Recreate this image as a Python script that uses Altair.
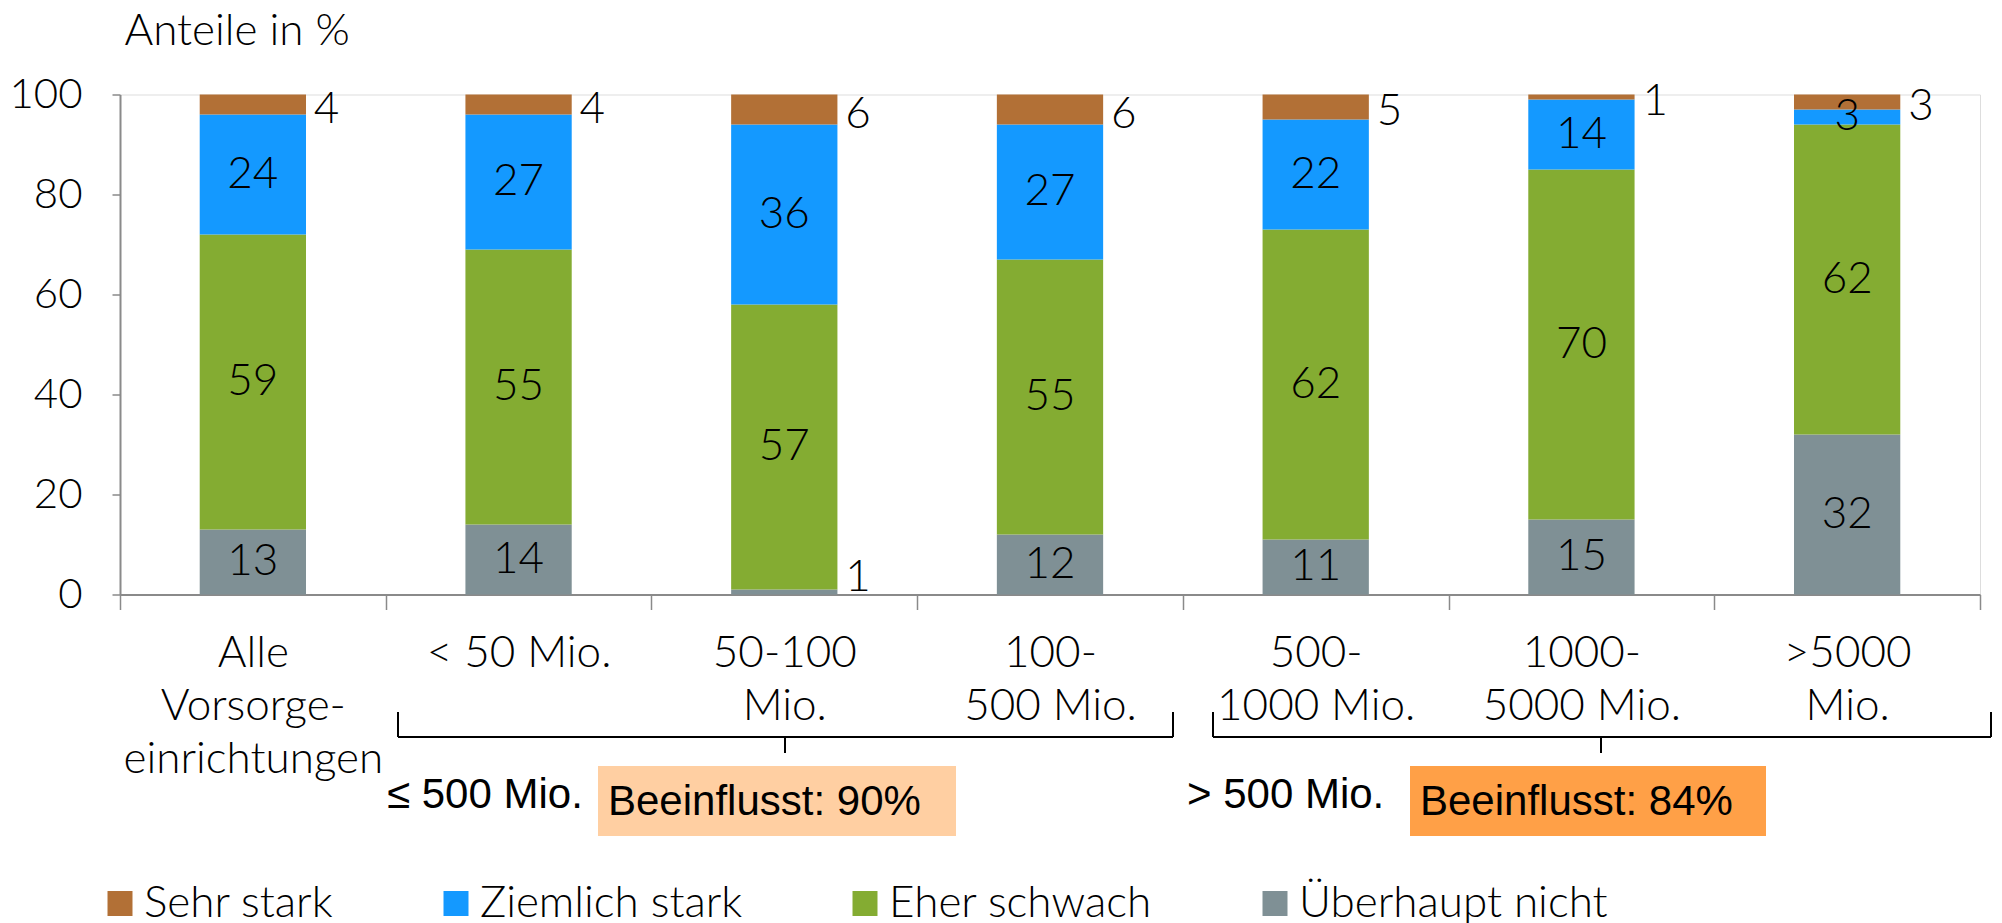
import altair as alt
import pandas as pd

# ---------------- data ----------------
categories = ["Alle|Vorsorge-|einrichtungen", "< 50 Mio.", "50-100|Mio.", "100-|500 Mio.",
              "500-|1000 Mio.", "1000-|5000 Mio.", ">5000|Mio."]
series = ["Sehr stark", "Ziemlich stark", "Eher schwach", "Überhaupt nicht"]
colors = ["#B27036", "#1499FF", "#84AC32", "#7F9095"]

ueberhaupt_nicht = [13, 14, 1, 12, 11, 15, 32]
eher_schwach = [59, 55, 57, 55, 62, 70, 62]
ziemlich_stark = [24, 27, 36, 27, 22, 14, 3]
sehr_stark = [4, 4, 6, 6, 5, 1, 3]

y_ticks = [0, 20, 40, 60, 80, 100]
y_title = "Anteile in %"
group_labels = ["≤ 500 Mio.", "> 500 Mio."]
beeinflusst = [90, 84]
box_colors = ["#FFCFA2", "#FFA047"]

# stacked table (bottom -> top)
stack_order = [("Überhaupt nicht", ueberhaupt_nicht), ("Eher schwach", eher_schwach),
               ("Ziemlich stark", ziemlich_stark), ("Sehr stark", sehr_stark)]
rows = []
for i, cat in enumerate(categories):
    base = 0
    for name, vals in stack_order:
        v = vals[i]
        if name == "Sehr stark":
            place = "top"
        elif v < 2:
            place = "bottom"
        else:
            place = "inside"
        rows.append({"cat": cat, "series": name, "value": v, "lo": base, "hi": base + v,
                     "mid": base + v / 2, "place": place})
        base += v
df = pd.DataFrame(rows)

FONT = "Lato"
FW = 300
FS = 44
ARIAL = "Liberation Sans"

x_enc = alt.X("cat:N", sort=categories, title=None,
              scale=alt.Scale(paddingInner=0, paddingOuter=0),
              axis=alt.Axis(labelExpr="split(datum.label, '|')", labelAngle=0,
                            labelFont=FONT, labelFontWeight=FW, labelFontSize=FS,
                            labelColor="black", labelLineHeight=53, labelBaseline="top",
                            labelPadding=22, labelLimit=500, labelOverlap=False,
                            tickBand="extent", tickSize=15, tickColor="#8a8a8a", tickWidth=1.5,
                            domainColor="#8a8a8a", domainWidth=2, grid=False))
y_scale = alt.Scale(domain=[0, 100], nice=False)

bars = alt.Chart(df).mark_bar(width=alt.RelativeBandSize(0.4)).encode(
    x=x_enc,
    y=alt.Y("lo:Q", scale=y_scale, title=y_title,
            axis=alt.Axis(values=y_ticks, grid=False, labelFont=FONT, labelFontWeight=FW,
                          labelFontSize=42, labelColor="black", labelPadding=30,
                          tickSize=8, tickColor="#8a8a8a", tickWidth=1.5,
                          domainColor="#8a8a8a", domainWidth=2,
                          titleAngle=0, titleAlign="left", titleBaseline="alphabetic",
                          titleX=4, titleY=-50, titleFont=FONT, titleFontWeight=FW,
                          titleFontSize=FS, titleColor="black")),
    y2="hi:Q",
    color=alt.Color("series:N", scale=alt.Scale(domain=series, range=colors),
                    legend=alt.Legend(title=None, orient="none", legendX=-22, legendY=787,
                                      direction="horizontal", symbolType="square",
                                      symbolSize=625, symbolStrokeWidth=0, symbolOpacity=1,
                                      labelFont=FONT, labelFontWeight=FW, labelFontSize=FS,
                                      labelColor="black", labelOffset=2, columnPadding=100,
                                      labelLimit=600)),
)

txt_common = dict(font=FONT, fontWeight=FW, fontSize=FS, color="black")

inside = alt.Chart(df).transform_filter("datum.place == 'inside'").mark_text(
    align="center", baseline="middle", **txt_common).encode(
    x=alt.X("cat:N", sort=categories), y=alt.Y("mid:Q", scale=y_scale), text="value:Q")

top = alt.Chart(df).transform_filter("datum.place == 'top'").mark_text(
    align="left", baseline="middle", dx=61, dy=5, **txt_common).encode(
    x=alt.X("cat:N", sort=categories), y=alt.Y("mid:Q", scale=y_scale), text="value:Q")

bottom = alt.Chart(df).transform_filter("datum.place == 'bottom'").mark_text(
    align="left", baseline="alphabetic", dx=61, dy=-4, **txt_common).encode(
    x=alt.X("cat:N", sort=categories), y=alt.Y("lo:Q", scale=y_scale), text="value:Q")

# ---------------- annotations below the axis ----------------
one = pd.DataFrame({"k": [0]})


def rule(x1, y1, x2, y2):
    return alt.Chart(one).mark_rule(color="black", strokeWidth=2).encode(
        x=alt.value(x1), x2=alt.value(x2), y=alt.value(y1), y2=alt.value(y2))


brackets = []
for (xa, xb, xm) in [(278, 1053, 665), (1093, 1871, 1481)]:
    brackets += [rule(xa, 617.5, xa, 642.5), rule(xa, 642.5, xb, 642.5),
                 rule(xb, 617.5, xb, 642.5), rule(xm, 642.5, xm, 658.5)]

annot = []
for i, (gx, bx1, bx2) in enumerate([(267, 478, 836), (1067, 1290, 1646)]):
    annot.append(alt.Chart(one).mark_text(align="left", baseline="middle", font=ARIAL,
                                          fontSize=42, color="black").encode(
        x=alt.value(gx), y=alt.value(700.5), text=alt.value(group_labels[i])))
    annot.append(alt.Chart(one).mark_rect(color=box_colors[i]).encode(
        x=alt.value(bx1), x2=alt.value(bx2), y=alt.value(671.5), y2=alt.value(741.5)))
    annot.append(alt.Chart(one).mark_text(align="left", baseline="middle", font=ARIAL,
                                          fontSize=42, color="black").encode(
        x=alt.value(bx1 + 10), y=alt.value(707.5),
        text=alt.value(f"Beeinflusst: {beeinflusst[i]}%")))

chart = alt.layer(bars, inside, top, bottom, *brackets, *annot).properties(
    width=1860, height=500,
    autosize=alt.AutoSizeParams(type="none"),
    padding={"left": 112, "top": 86.5, "right": 12, "bottom": 340.5},
).configure_view(stroke=None).configure(background="white")

chart.save("out.html", embed_options={"renderer": "svg", "actions": False})
